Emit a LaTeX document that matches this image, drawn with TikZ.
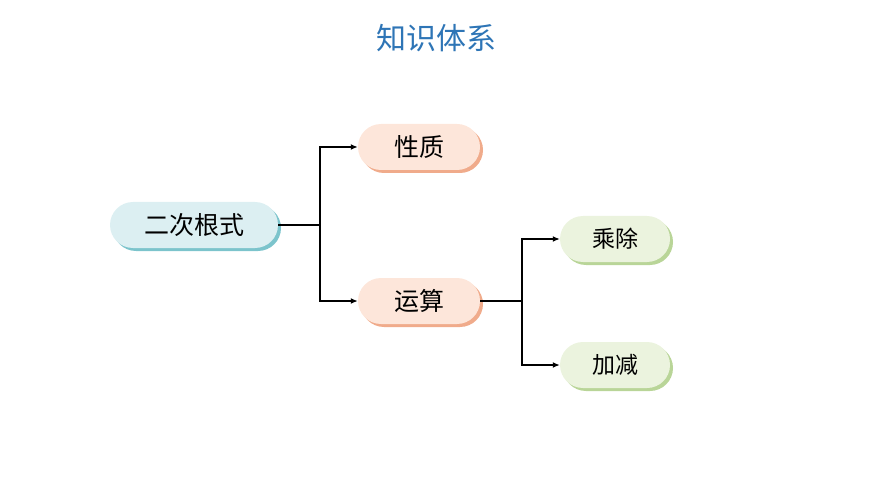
\documentclass[tikz,border=0pt]{standalone}
\usepackage{fontspec}
\newfontfamily\cjk{Noto Sans CJK SC}
\usetikzlibrary{arrows.meta}
\definecolor{titleblue}{HTML}{2E75B6}
\definecolor{cyanf}{HTML}{DCEFF2}\definecolor{cyans}{HTML}{7CC4CC}
\definecolor{peachf}{HTML}{FDE6DA}\definecolor{peachs}{HTML}{F0AB8B}
\definecolor{greenf}{HTML}{EBF3DE}\definecolor{greens}{HTML}{B9D598}
\begin{document}
\begin{tikzpicture}[x=1pt,y=-1pt,
  pill/.style n args={4}{rounded corners=23pt, minimum width=#1pt, minimum height=46pt, inner sep=0pt,
     font=\cjk\fontsize{#4}{28}\selectfont, text=black, fill=#2,
     preaction={fill=#3, transform canvas={shift={(3pt,-3pt)}}}},
  arr/.style={line width=1.6pt, -{Latex[length=7pt,width=6pt]}},
  ln/.style={line width=1.6pt}]
\useasboundingbox (0,0) rectangle (870,489);
\node[font=\cjk\fontsize{30}{32}\selectfont, text=titleblue] (title) at (436,38) {知识体系};
\node[pill={168}{cyanf}{cyans}{25}] (root) at (194,225) {二次根式};
\node[pill={122}{peachf}{peachs}{25}] (xz) at (419,147) {性质};
\node[pill={122}{peachf}{peachs}{25}] (ys) at (419,301) {运算};
\node[pill={110}{greenf}{greens}{23}] (cc) at (615,239) {乘除};
\node[pill={110}{greenf}{greens}{23}] (jj) at (615,365) {加减};
\coordinate (j1) at (320,225);
\coordinate (j2) at (522,301);
\draw[ln] (root.east) -- (j1);
\draw[arr] (j1) |- (xz.west);
\draw[arr] (j1) |- (ys.west);
\draw[ln] (ys.east) -- (j2);
\draw[arr] (j2) |- (cc.west);
\draw[arr] (j2) |- (jj.west);
\end{tikzpicture}
\end{document}
